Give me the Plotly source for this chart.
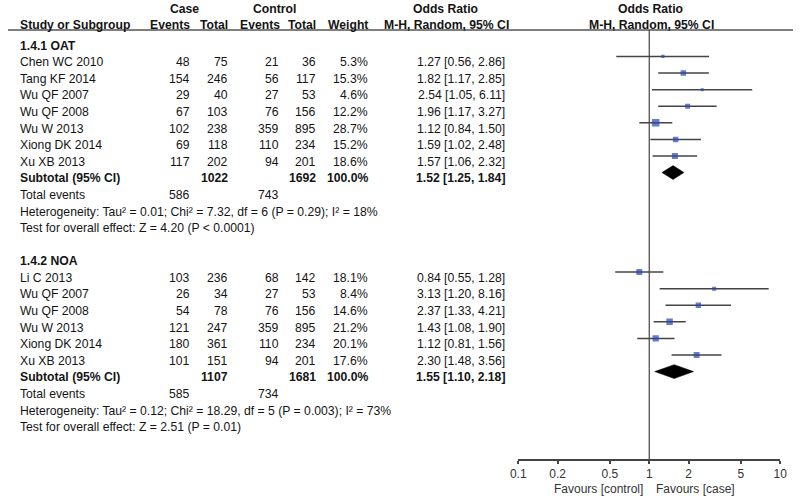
import plotly.graph_objects as go
import math

# ---------------- data ----------------
oat_study = ["Chen WC 2010", "Tang KF 2014", "Wu QF 2007", "Wu QF 2008", "Wu W 2013", "Xiong DK 2014", "Xu XB 2013"]
oat_case_events = [48, 154, 29, 67, 102, 69, 117]
oat_case_total = [75, 246, 40, 103, 238, 118, 202]
oat_ctrl_events = [21, 56, 27, 76, 359, 110, 94]
oat_ctrl_total = [36, 117, 53, 156, 895, 234, 201]
oat_weight = [5.3, 15.3, 4.6, 12.2, 28.7, 15.2, 18.6]
oat_or = [1.27, 1.82, 2.54, 1.96, 1.12, 1.59, 1.57]
oat_lo = [0.56, 1.17, 1.05, 1.17, 0.84, 1.02, 1.06]
oat_hi = [2.86, 2.85, 6.11, 3.27, 1.50, 2.48, 2.32]
oat_sub = dict(case_total=1022, ctrl_total=1692, weight=100.0, est=1.52, lo=1.25, hi=1.84,
               case_events=586, ctrl_events=743,
               het="Heterogeneity: Tau² = 0.01; Chi² = 7.32, df = 6 (P = 0.29); I² = 18%",
               test="Test for overall effect: Z = 4.20 (P &lt; 0.0001)")

noa_study = ["Li C 2013", "Wu QF 2007", "Wu QF 2008", "Wu W 2013", "Xiong DK 2014", "Xu XB 2013"]
noa_case_events = [103, 26, 54, 121, 180, 101]
noa_case_total = [236, 34, 78, 247, 361, 151]
noa_ctrl_events = [68, 27, 76, 359, 110, 94]
noa_ctrl_total = [142, 53, 156, 895, 234, 201]
noa_weight = [18.1, 8.4, 14.6, 21.2, 20.1, 17.6]
noa_or = [0.84, 3.13, 2.37, 1.43, 1.12, 2.30]
noa_lo = [0.55, 1.20, 1.33, 1.08, 0.81, 1.48]
noa_hi = [1.28, 8.16, 4.21, 1.90, 1.56, 3.56]
noa_sub = dict(case_total=1107, ctrl_total=1681, weight=100.0, est=1.55, lo=1.10, hi=2.18,
               case_events=585, ctrl_events=734,
               het="Heterogeneity: Tau² = 0.12; Chi² = 18.29, df = 5 (P = 0.003); I² = 73%",
               test="Test for overall effect: Z = 2.51 (P = 0.01)")

tick_vals = [0.1, 0.2, 0.5, 1, 2, 5, 10]
tick_text = ["0.1", "0.2", "0.5", "1", "2", "5", "10"]
favours_left = "Favours [control]"
favours_right = "Favours [case]"

groups = [("1.4.1 OAT", oat_study, oat_case_events, oat_case_total, oat_ctrl_events, oat_ctrl_total,
           oat_weight, oat_or, oat_lo, oat_hi, oat_sub),
          ("1.4.2 NOA", noa_study, noa_case_events, noa_case_total, noa_ctrl_events, noa_ctrl_total,
           noa_weight, noa_or, noa_lo, noa_hi, noa_sub)]

# ---------------- layout constants ----------------
W, H = 800, 496
FONT = "Liberation Sans, Arial, sans-serif"
FS = 12.2
TXT = "#141414"
BLUE = "#2646b0"
LINE = "#444444"
X_STUDY, X_CE, X_CT, X_XE, X_XT, X_W, X_OR = 11, 186, 225, 277, 315, 368, 508
DY_TEXT = 0.08     # text nominal offset (rows)
DY_MARK = -0.27    # marks sit slightly above text centre
DIAM_H = 0.42

annotations = []


def txt(xpx, row, s, anchor="right", bold=False, color=TXT, size=FS, yref="y"):
    annotations.append(dict(
        x=xpx / W, xref="paper", y=row + DY_TEXT if yref == "y" else row, yref=yref,
        text=f"<b>{s}</b>" if bold else s, showarrow=False,
        xanchor=anchor, yanchor="middle", borderpad=0,
        font=dict(family=FONT, size=size, color=color)))


fig = go.Figure()

# headers
R_H1, R_H2 = -2.19, -1.23
txt(180, R_H1, "Case", "center", True)
txt(272, R_H1, "Control", "center", True)
txt(446, R_H1, "Odds Ratio", "center", True)
txt(655, R_H1, "Odds Ratio", "center", True)
txt(X_STUDY, R_H2, "Study or Subgroup", "left", True)
txt(X_CE + 1, R_H2, "Events", "right", True)
txt(X_CT, R_H2, "Total", "right", True)
txt(X_XE + 1, R_H2, "Events", "right", True)
txt(X_XT, R_H2, "Total", "right", True)
txt(X_W, R_H2, "Weight", "right", True)
txt(447, R_H2, "M-H, Random, 95% CI", "center", True)
txt(656, R_H2, "M-H, Random, 95% CI", "center", True)

row = 0
for (gname, study, ce, ct, xe, xt, wt, est, lo, hi, sub) in groups:
    txt(X_STUDY, row, gname, "left", True)
    row += 1
    rows = []
    for i in range(len(study)):
        txt(X_STUDY, row, study[i], "left")
        txt(X_CE, row, str(ce[i]))
        txt(X_CT, row, str(ct[i]))
        txt(X_XE, row, str(xe[i]))
        txt(X_XT, row, str(xt[i]))
        txt(X_W, row, f"{wt[i]:.1f}%")
        txt(X_OR, row, f"{est[i]:.2f} [{lo[i]:.2f}, {hi[i]:.2f}]")
        rows.append(row + DY_MARK)
        row += 1
    # whiskers
    lx, ly = [], []
    for i in range(len(study)):
        lx += [lo[i], hi[i], None]
        ly += [rows[i], rows[i], None]
    fig.add_trace(go.Scatter(x=lx, y=ly, mode="lines", line=dict(color=LINE, width=1.5),
                             hoverinfo="skip", showlegend=False))
    fig.add_trace(go.Scatter(x=est, y=rows, mode="markers",
                             marker=dict(symbol="square", color=BLUE,
                                         size=[max(3, 1.4 * math.sqrt(w)) for w in wt],
                                         line=dict(width=0)),
                             showlegend=False))
    # subtotal
    txt(X_STUDY, row, "Subtotal (95% CI)", "left", True)
    txt(X_CT, row, str(sub["case_total"]), "right", True)
    txt(X_XT, row, str(sub["ctrl_total"]), "right", True)
    txt(X_W, row, f"{sub['weight']:.1f}%", "right", True)
    txt(X_OR, row, f"{sub['est']:.2f} [{sub['lo']:.2f}, {sub['hi']:.2f}]", "right", True)
    rc = row + DY_MARK
    fig.add_trace(go.Scatter(x=[sub["lo"], sub["est"], sub["hi"], sub["est"], sub["lo"]],
                             y=[rc, rc - DIAM_H, rc, rc + DIAM_H, rc],
                             mode="lines", fill="toself", fillcolor="black",
                             line=dict(color="black", width=0.5), showlegend=False,
                             hoverinfo="skip"))
    row += 1
    txt(X_STUDY, row, "Total events", "left")
    txt(X_CE, row, str(sub["case_events"]))
    txt(X_XE, row, str(sub["ctrl_events"]))
    row += 1
    txt(X_STUDY, row, sub["het"], "left")
    row += 1
    txt(X_STUDY, row, sub["test"], "left")
    row += 2

R_AXIS = 25
R_TOP = -44.4 / 16.6
R_HLINE = -0.87
# footer labels (paper coordinates, below the axis)
txt(648, (H - 488.5) / H, favours_left, "right", False, "#333", size=12, yref="paper")
txt(659, (H - 488.5) / H, favours_right, "left", False, "#333", size=12, yref="paper")

shapes = [
    dict(type="line", xref="paper", yref="y", x0=0, x1=1, y0=R_HLINE, y1=R_HLINE,
         line=dict(color="#555", width=1.5)),
    dict(type="line", xref="x", yref="y", x0=1, x1=1, y0=R_HLINE, y1=R_AXIS,
         line=dict(color="#444", width=1.2)),
]

fig.update_layout(
    width=W, height=H, margin=dict(l=0, r=0, t=0, b=0, pad=0),
    paper_bgcolor="white", plot_bgcolor="white",
    annotations=annotations, shapes=shapes, showlegend=False,
    xaxis=dict(type="log", range=[-1, 1], domain=[520 / W, 787 / W],
               showline=True, linecolor="#444", linewidth=1.5,
               ticks="outside", ticklen=3, tickwidth=1.5, tickcolor="#444",
               tickvals=tick_vals, ticktext=tick_text, showgrid=False, zeroline=False,
               tickfont=dict(family=FONT, size=12, color="#333")),
    yaxis=dict(range=[R_AXIS, R_TOP], domain=[(H - 459) / H, 1], visible=False,
               showgrid=False, zeroline=False),
)

fig.write_html("out.html", config={"displayModeBar": False},
               post_script="document.body.style.margin='0';document.body.style.overflow='hidden';")
